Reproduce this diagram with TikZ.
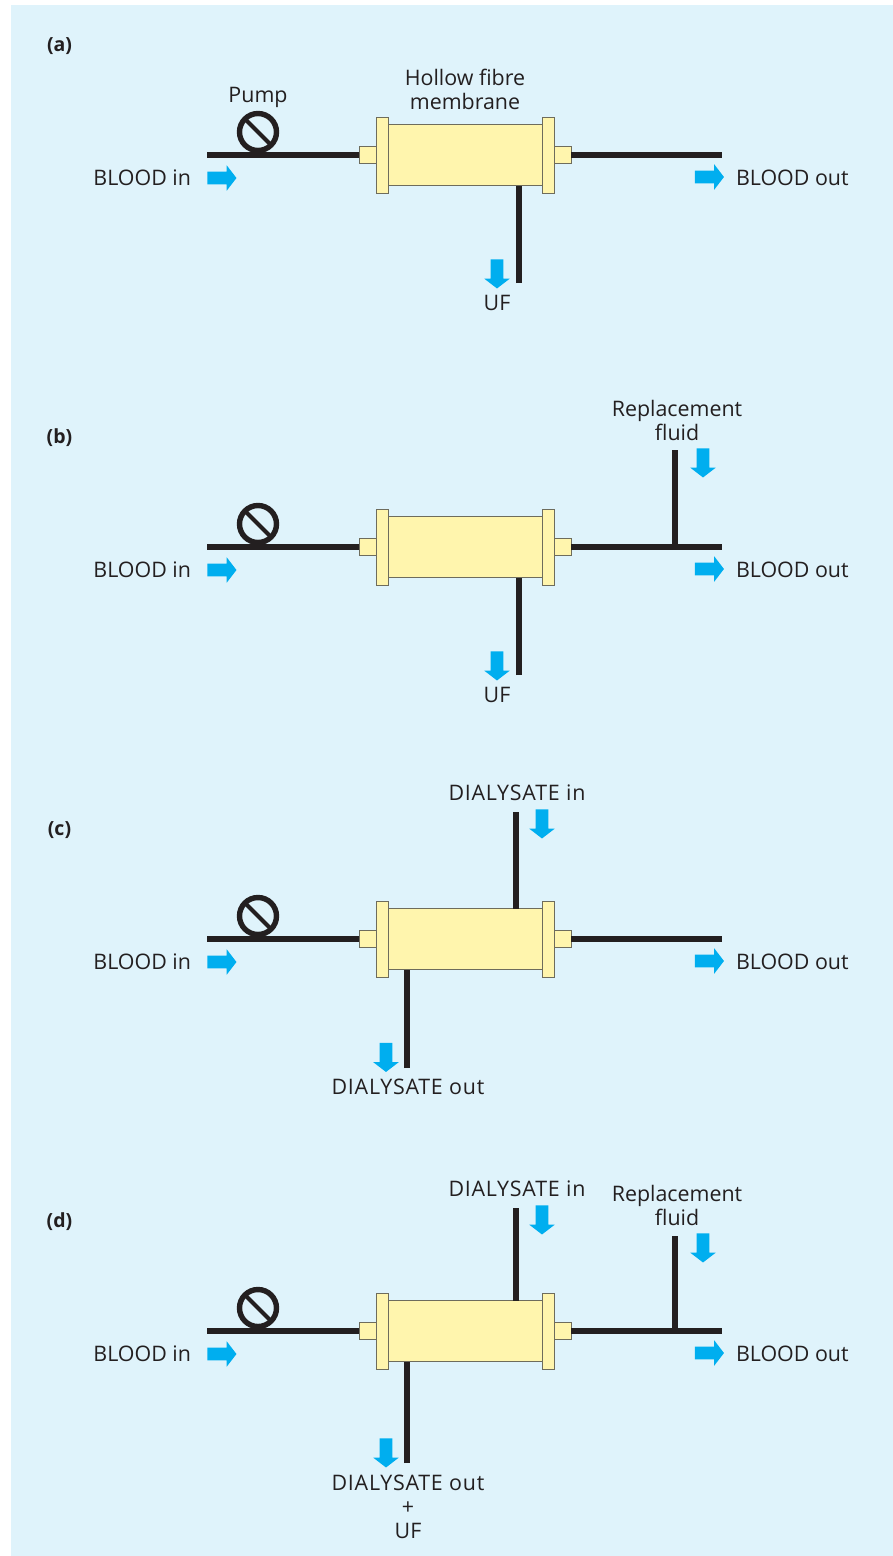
\documentclass[tikz,border=0pt]{standalone}
\usepackage{fontspec}
\setmainfont{Open Sans}
\usetikzlibrary{shapes.arrows}
\definecolor{bgblue}{HTML}{DFF3FB}
\definecolor{memyellow}{HTML}{FFF5AD}
\definecolor{flowblue}{HTML}{00AEEF}
\definecolor{tube}{HTML}{231F20}
\definecolor{edge}{HTML}{6E6C5C}
\newcommand{\shaft}{\rule{0pt}{12.4pt}}
\newcommand{\widecaps}{\addfontfeatures{LetterSpace=3.6}}
\tikzset{
  x=1pt,y=-1pt,
  part/.style={draw=edge,line width=1pt,fill=memyellow,inner sep=0pt,outer sep=0pt,rectangle},
  tubeline/.style={draw=tube,line width=5.4pt},
  flowarrow/.style={single arrow,fill=flowblue,draw=none,inner sep=0pt,outer sep=0pt,
    minimum height=29pt,minimum width=25pt,single arrow head extend=6.3pt,
    single arrow tip angle=105},
  flowright/.style={flowarrow},
  flowdown/.style={flowarrow,rotate=-90},
  lbl/.style={font=\fontsize{21.4}{24}\selectfont,text=tube,inner sep=0pt,outer sep=0pt,align=center},
  panel/.style={font=\fontsize{19.5}{22}\selectfont\bfseries,text=tube,inner sep=0pt},
  unit/.pic={
    \node[part,minimum width=154pt,minimum height=61pt] (-body) at (465,155) {};
    \node[part,minimum width=12pt,minimum height=76pt] (-fl) at (382,155) {};
    \node[part,minimum width=12pt,minimum height=76pt] (-fr) at (548,155) {};
    \node[part,minimum width=17pt,minimum height=16.5pt] (-sl) at (367.5,155) {};
    \node[part,minimum width=17pt,minimum height=16.5pt] (-sr) at (562.5,155) {};
    \coordinate (-in) at (207,155);
    \coordinate (-out) at (722,155);
    \draw[tubeline] (-in) -- (-sl.west);
    \draw[tubeline] (-sr.east) -- (-out);
    \node[circle,draw=tube,line width=5.4pt,minimum size=37pt,inner sep=0pt,outer sep=0pt] (-pump) at (258,132) {};
    \draw[draw=tube,line width=4.2pt] (-pump.135) -- (-pump.-45);
    \node[lbl,anchor=east] (-bi) at (191,178) {BLOOD in};
    \node[flowright] (-ai) at (219.5,178) {\shaft};
    \node[flowright] (-ao) at (707,177) {\shaft};
    \node[lbl,anchor=west] (-bo) at (736,178) {BLOOD out};
  }
}
\begin{document}
\begin{tikzpicture}
\useasboundingbox (0,0) rectangle (893,1556);
\fill[white] (0,0) rectangle (893,1556);
\fill[bgblue] (11,5) rectangle (893,1556);

% (a)
\pic (a) at (0,0) {unit};
\node[panel] (la) at (59.5,46) {(a)};
\node[lbl] (pumpa) at (258,97) {Pump};
\node[lbl] (hf) at (465,89) {Hollow fibre\\membrane};
\coordinate (ufa) at (519,283);
\draw[tubeline] (ufa) -- (ufa |- a-body.south);
\node[flowdown] (aua) at (497,271.5) {\shaft};
\node[lbl] (tua) at (497,303) {UF};

% (b)
\pic (b) at (0,392) {unit};
\node[panel] (lb) at (59.5,438) {(b)};
\coordinate (ufb) at (519,675);
\draw[tubeline] (ufb) -- (ufb |- b-body.south);
\node[flowdown] (aub) at (497,663.5) {\shaft};
\node[lbl] (tub) at (497,695) {UF};
\coordinate (rfb) at (675,450);
\draw[tubeline] (rfb) -- (rfb |- b-out);
\node[flowdown] (arb) at (703,460.5) {\shaft};
\node[lbl] (trb) at (677,420) {Replacement\\fluid};

% (c)
\pic (c) at (0,784) {unit};
\node[panel] (lc) at (59.5,830) {(c)};
\coordinate (dic) at (516,812);
\draw[tubeline] (dic) -- (dic |- c-body.north);
\node[flowdown] (adic) at (542,821.5) {\shaft};
\node[lbl] (tdic) at (517,793) {\widecaps DIALYSATE in};
\coordinate (doc) at (407,1068);
\draw[tubeline] (doc) -- (doc |- c-body.south);
\node[flowdown] (adoc) at (386,1055) {\shaft};
\node[lbl] (tdoc) at (408,1087) {\widecaps DIALYSATE out};

% (d)
\pic (d) at (0,1176) {unit};
\node[panel] (ld) at (59.5,1222) {(d)};
\coordinate (did) at (516,1208);
\draw[tubeline] (did) -- (did |- d-body.north);
\node[flowdown] (adid) at (542,1217.5) {\shaft};
\node[lbl] (tdid) at (517,1189) {\widecaps DIALYSATE in};
\coordinate (rfd) at (675,1236);
\draw[tubeline] (rfd) -- (rfd |- d-out);
\node[flowdown] (ard) at (703,1245.5) {\shaft};
\node[lbl] (trd) at (677,1205) {Replacement\\fluid};
\coordinate (dod) at (407,1463);
\draw[tubeline] (dod) -- (dod |- d-body.south);
\node[flowdown] (adod) at (386,1450.5) {\shaft};
\node[lbl] (tdod) at (408,1483) {\widecaps DIALYSATE out};
\node[lbl] (tpl) at (408,1508) {+};
\node[lbl] (tufd) at (408,1531) {UF};
\end{tikzpicture}
\end{document}
